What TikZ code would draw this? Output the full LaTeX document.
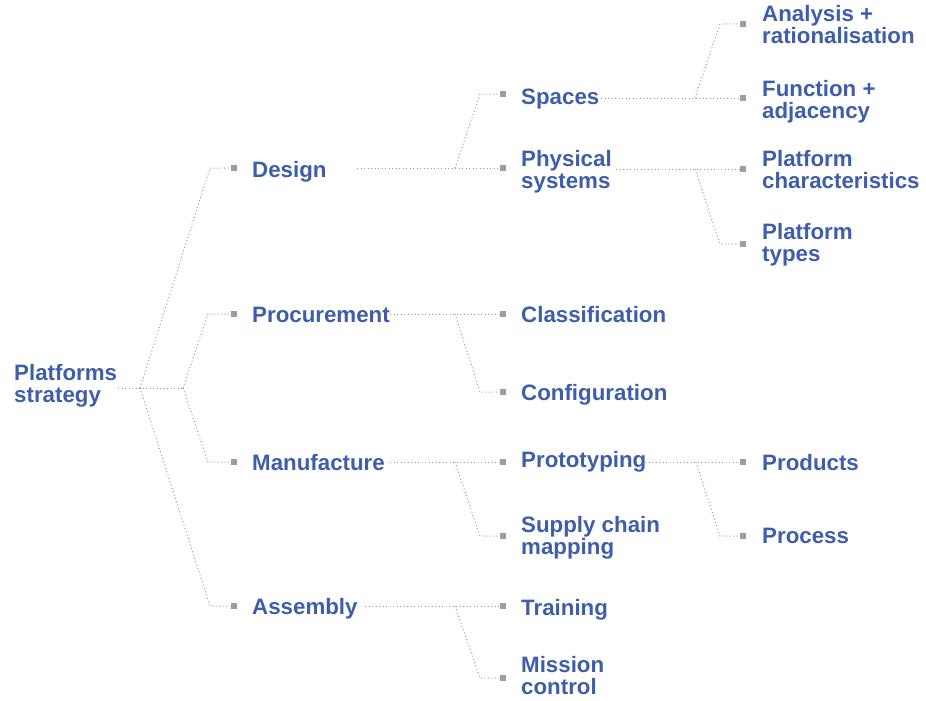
\documentclass[tikz,border=0pt]{standalone}
\usepackage{fontspec}
\setmainfont{Liberation Sans}
\definecolor{txtblue}{RGB}{62,93,170}
\definecolor{sqgray}{RGB}{155,159,163}
\definecolor{lngray}{RGB}{150,154,158}
\tikzset{
  lbl/.style={anchor=base west, inner sep=0pt, align=left, text=txtblue,
    font=\fontsize{22.3}{22}\selectfont\bfseries},
  sq/.style={rectangle, fill=sqgray, minimum size=6.5pt, inner sep=0pt},
  conn/.style={draw=lngray, line width=1pt, dash pattern=on 1pt off 2.5pt}
}
\begin{document}
\begin{tikzpicture}[x=1pt,y=-1pt]
\useasboundingbox (0,0) rectangle (926,701);
% labels (multi-line labels are placed by the baseline of their last line)
\node[lbl] (root) at (14,402) {Platforms\\strategy};
\node[lbl] (design) at (252,177) {Design};
\node[lbl] (proc) at (252,322) {Procurement};
\node[lbl] (manu) at (252,470) {Manufacture};
\node[lbl] (assem) at (252,614) {Assembly};
\node[lbl] (spaces) at (521,104) {Spaces};
\node[lbl] (phys) at (521,188) {Physical\\systems};
\node[lbl] (class) at (521,322) {Classification};
\node[lbl] (config) at (521,400) {Configuration};
\node[lbl] (proto) at (521,467) {Prototyping};
\node[lbl] (supply) at (521,554) {Supply chain\\mapping};
\node[lbl] (train) at (521,615) {Training};
\node[lbl] (mission) at (521,694) {Mission\\control};
\node[lbl] (anal) at (762,44) {Analysis +\\rationalisation};
\node[lbl] (func) at (762,118) {Function +\\adjacency};
\node[lbl] (pchar) at (762,188) {Platform\\characteristics};
\node[lbl] (ptypes) at (762,261) {Platform\\types};
\node[lbl] (prod) at (762,470) {Products};
\node[lbl] (process) at (762,543) {Process};
% squares
\node[sq] (s-design) at (234,168) {};
\node[sq] (s-proc) at (234,314) {};
\node[sq] (s-manu) at (234,462) {};
\node[sq] (s-assem) at (234,606) {};
\node[sq] (s-spaces) at (503,94) {};
\node[sq] (s-phys) at (503,168) {};
\node[sq] (s-class) at (503,314) {};
\node[sq] (s-config) at (503,392) {};
\node[sq] (s-proto) at (503,462) {};
\node[sq] (s-supply) at (503,536) {};
\node[sq] (s-train) at (503,606) {};
\node[sq] (s-mission) at (503,678) {};
\node[sq] (s-anal) at (743,24) {};
\node[sq] (s-func) at (743,98) {};
\node[sq] (s-pchar) at (743,169) {};
\node[sq] (s-ptypes) at (743,244) {};
\node[sq] (s-prod) at (743,462) {};
\node[sq] (s-process) at (743,536) {};
% connector coordinates
\coordinate (r-o) at (118,388);
\coordinate (r-b0) at (140,388);
\coordinate (r-b1) at (183,388);
\coordinate (d-o) at (357,168);
\coordinate (d-b) at (455,168);
\coordinate (p-o) at (390,314);
\coordinate (p-b) at (455,314);
\coordinate (m-o) at (390,462);
\coordinate (m-b) at (455,462);
\coordinate (a-o) at (365,606);
\coordinate (a-b) at (455,606);
\coordinate (sp-o) at (601,98);
\coordinate (sp-b) at (695,98);
\coordinate (ph-o) at (616,169);
\coordinate (ph-b) at (695,169);
\coordinate (pr-o) at (645,462);
\coordinate (pr-b) at (696,462);
% connectors
\draw[conn] (r-o) -- (r-b1);
\draw[conn] (r-b0) -- (210,168) -- (s-design.west);
\draw[conn] (r-b0) -- (210,606) -- (s-assem.west);
\draw[conn] (r-b1) -- (208,314) -- (s-proc.west);
\draw[conn] (r-b1) -- (208,462) -- (s-manu.west);
\draw[conn] (d-o) -- (s-phys.west);
\draw[conn] (d-b) -- (480,94) -- (s-spaces.west);
\draw[conn] (p-o) -- (s-class.west);
\draw[conn] (p-b) -- (480,392) -- (s-config.west);
\draw[conn] (m-o) -- (s-proto.west);
\draw[conn] (m-b) -- (480,536) -- (s-supply.west);
\draw[conn] (a-o) -- (s-train.west);
\draw[conn] (a-b) -- (480,678) -- (s-mission.west);
\draw[conn] (sp-o) -- (s-func.west);
\draw[conn] (sp-b) -- (720,24) -- (s-anal.west);
\draw[conn] (ph-o) -- (s-pchar.west);
\draw[conn] (ph-b) -- (720,244) -- (s-ptypes.west);
\draw[conn] (pr-o) -- (s-prod.west);
\draw[conn] (pr-b) -- (720,536) -- (s-process.west);
\end{tikzpicture}
\end{document}
